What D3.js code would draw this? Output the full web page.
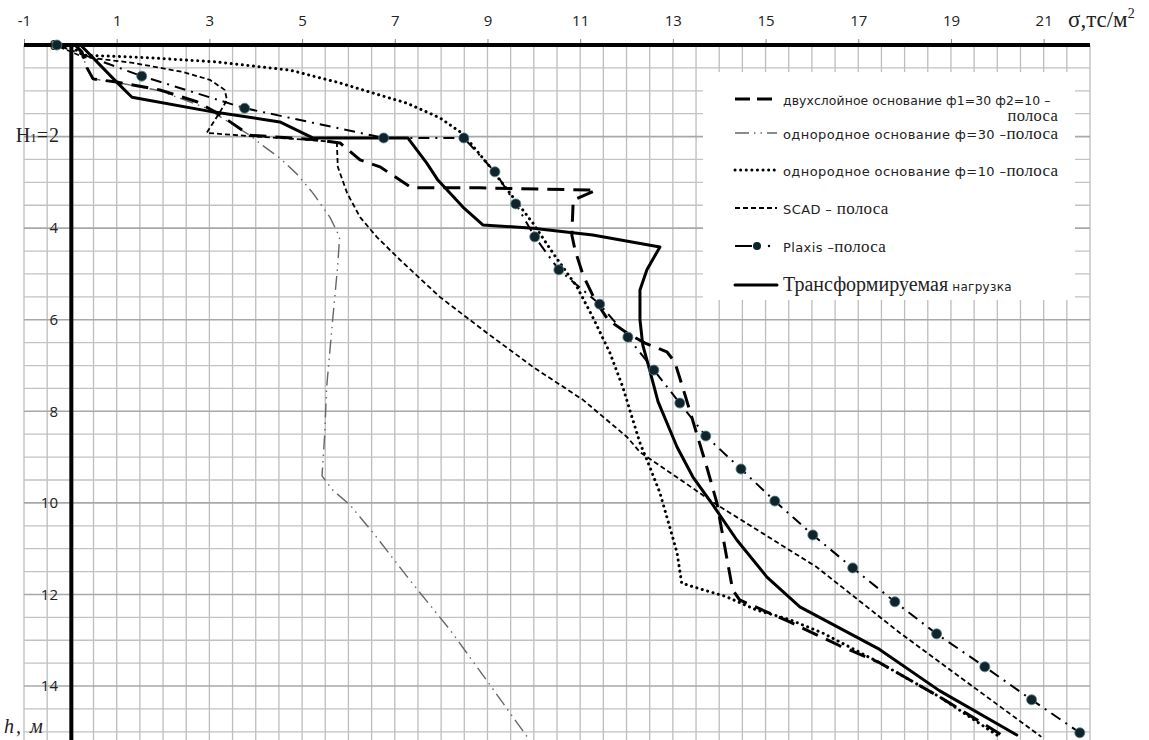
<!DOCTYPE html>
<html><head><meta charset="utf-8">
<script src="https://cdn.jsdelivr.net/npm/d3@7"></script>
<style>body{margin:0;background:#fff} svg{display:block}</style>
</head><body><svg id="c" width="1149" height="740"></svg>
<script>
// ---- data ----
const xTicks = [-1,1,3,5,7,9,11,13,15,17,19,21];
const yTicks = [0,2,4,6,8,10,12,14];
const yTickLabels = ["0","Н1=2","4","6","8","10","12","14"];

// [σ, h]
const twoLayer = [[0.1,0],[0.25,0.15],[0.36,0.5],[0.49,0.74],[1.0,0.81],[1.93,0.98],[2.73,1.24],[3.16,1.48],[3.87,1.97],[5.32,2.07],[5.82,2.14],[6.25,2.51],[6.68,2.66],[7.11,2.95],[7.37,3.12],[8.84,3.12],[11.34,3.17],[10.85,3.39],[10.82,4.15],[10.89,4.48],[11.06,5.02],[11.32,5.57],[11.6,6.0],[12.01,6.29],[12.4,6.51],[12.87,6.7],[13.04,6.92],[13.21,7.47],[13.47,8.34],[13.73,9.21],[13.95,10.0],[14.12,10.96],[14.29,11.9],[14.44,12.12],[15.52,12.6],[16.6,13.12],[17.46,13.49],[18.76,14.24],[20.16,15.11]];
const phi30 = [[0.1,0],[0.25,0.22],[0.38,0.55],[0.49,0.74],[1.07,0.83],[1.93,1.0],[2.94,1.38],[3.87,1.97],[4.13,2.18],[4.52,2.47],[4.89,2.82],[5.23,3.23],[5.6,3.76],[5.81,4.19],[5.77,4.8],[5.66,6.0],[5.53,7.47],[5.49,8.47],[5.43,9.41],[5.66,9.72],[6.03,10.04],[6.57,10.7],[7.32,11.68],[8.19,12.77],[9.05,13.97],[9.87,15.13]];
const phi10 = [[0.03,0.04],[0.27,0.22],[1.72,0.28],[3.16,0.37],[4.74,0.55],[5.82,0.83],[6.53,1.05],[7.26,1.27],[7.97,1.59],[8.47,1.94],[8.99,2.58],[9.48,3.23],[9.98,3.89],[10.41,4.54],[10.93,5.28],[11.27,5.94],[11.64,6.72],[11.92,7.47],[12.07,7.97],[12.29,8.69],[12.5,9.21],[12.72,9.78],[12.93,10.52],[13.09,11.09],[13.19,11.75],[13.43,11.83],[14.16,12.05],[14.81,12.34],[15.52,12.55],[16.23,12.84],[17.46,13.49],[18.76,14.24],[20.05,15.11]];
const scad = [[-0.23,0.04],[0.27,0.26],[1.35,0.39],[2.43,0.59],[3.01,0.76],[3.33,0.98],[3.38,1.2],[3.23,1.46],[2.94,1.92],[3.87,1.99],[5.1,2.07],[5.75,2.12],[5.77,2.66],[5.97,3.23],[6.25,3.76],[6.61,4.19],[7.11,4.69],[7.97,5.5],[8.99,6.29],[9.98,7.03],[11.06,7.75],[12.01,8.56],[12.29,8.89],[13.95,10.04],[16.1,11.4],[17.9,12.84],[20.95,15.11]];
const plaxis = [[-0.29,0],[1.54,0.68],[3.76,1.38],[6.76,2.03],[8.49,2.03],[9.16,2.77],[9.61,3.47],[10.02,4.19],[10.54,4.91],[11.42,5.66],[12.03,6.38],[12.59,7.10],[13.15,7.82],[13.71,8.54],[14.47,9.26],[15.2,9.96],[16.02,10.7],[16.88,11.42],[17.79,12.16],[18.69,12.86],[19.73,13.58],[20.74,14.3],[21.78,15.02]];
const transformed = [[0.22,0],[1.0,0.81],[1.33,1.14],[3.07,1.46],[4.52,1.68],[5.23,2.03],[7.28,2.03],[7.69,2.58],[7.93,2.95],[8.47,3.54],[8.9,3.93],[9.98,4.0],[11.27,4.15],[12.72,4.41],[12.44,4.91],[12.29,5.35],[12.29,6.0],[12.35,6.55],[12.5,7.1],[12.68,7.79],[13.09,8.78],[13.43,9.43],[13.86,10.04],[14.38,10.81],[15.03,11.62],[15.74,12.27],[17.46,13.2],[18.75,14.1],[20.42,15.07]];

// ---- styles ----
const styles = {
  twoLayer:    {stroke:"#000", width:3, dash:"17,9", cap:"butt"},
  phi30:       {stroke:"#666", width:1.4, dash:"14,5,1.5,5,1.5,5", cap:"butt"},
  phi10:       {stroke:"#000", width:3, dash:"0.1,5.5", cap:"round"},
  scad:        {stroke:"#000", width:1.8, dash:"5,3", cap:"butt"},
  plaxis:      {stroke:"#000", width:2, dash:"11,6,2,6", cap:"butt"},
  transformed: {stroke:"#000", width:3, dash:null, cap:"round"}
};

const svg = d3.select("#c");
const x = d3.scaleLinear().domain([-1,22]).range([24,1090]);
const y = d3.scaleLinear().domain([0,15.2]).range([45,741]);

// grid
const g = svg.append("g");
g.selectAll("line.v").data(d3.range(-1,22.001,0.5)).join("line")
  .attr("x1",d=>x(d)).attr("x2",d=>x(d)).attr("y1",y(0)).attr("y2",740)
  .attr("stroke","#bdbdbd").attr("stroke-width",1.3);
g.selectAll("line.h").data(d3.range(0.5,15.001,0.5)).join("line")
  .attr("x1",x(-1)).attr("x2",x(22)).attr("y1",d=>y(d)).attr("y2",d=>y(d))
  .attr("stroke",d=>(d%2===0)?"#a8a8a8":"#c2c2c2").attr("stroke-width",d=>(d%2===0)?1.6:1.3);

// top axis ticks & labels
const ax = d3.axisTop(x).tickValues(xTicks).tickSize(6).tickFormat(d=>String(d));
const axG = svg.append("g").attr("transform",`translate(0,${y(0)})`).call(ax);
axG.select(".domain").remove();
axG.selectAll(".tick line").attr("stroke","#888");
axG.selectAll(".tick text").attr("font-family","Open Sans, sans-serif").attr("font-size",15).attr("fill","#222").attr("y",-19).attr("dy",0);

// left labels
const ay = d3.axisLeft(y).tickValues(yTicks).tickSize(0).tickFormat((d,i)=>yTickLabels[i]);
const ayG = svg.append("g").attr("transform",`translate(58,0)`).call(ay);
ayG.select(".domain").remove();
ayG.selectAll(".tick text").attr("font-family","Open Sans, sans-serif").attr("font-size",15).attr("fill","#222").attr("x",0)
  .each(function(d,i){
    if(yTickLabels[i].startsWith("Н1")){
      const t=d3.select(this); t.text(null).attr("x",2);
      t.append("tspan").attr("font-family","Liberation Serif, serif").attr("font-size",20).text("Н");
      t.append("tspan").attr("font-family","Liberation Serif, serif").attr("font-size",13).text("1");
      t.append("tspan").attr("font-family","Liberation Serif, serif").attr("font-size",20).attr("letter-spacing",1).text("=2");
    }
  });

// legend box
svg.append("rect").attr("x",703).attr("y",72).attr("width",372).attr("height",228).attr("fill","#fff");

// axes thick lines
svg.append("line").attr("x1",x(-1)).attr("x2",x(22)).attr("y1",y(0)).attr("y2",y(0)).attr("stroke","#000").attr("stroke-width",4);
svg.append("line").attr("x1",x(0)+1).attr("x2",x(0)+1).attr("y1",y(0)-2).attr("y2",740).attr("stroke","#000").attr("stroke-width",4);

// curves
const line = d3.line().x(d=>x(d[0])).y(d=>y(d[1]));
const series = [["phi30",phi30],["scad",scad],["phi10",phi10],["twoLayer",twoLayer],["transformed",transformed],["plaxis",plaxis]];
series.forEach(([k,data])=>{
  const s=styles[k];
  svg.append("path").datum(data).attr("d",line).attr("fill","none")
    .attr("stroke",s.stroke).attr("stroke-width",s.width)
    .attr("stroke-dasharray",s.dash).attr("stroke-linecap",s.cap).attr("stroke-linejoin","round");
});
svg.append("g").selectAll("circle").data(plaxis).join("circle")
  .attr("cx",d=>x(d[0])).attr("cy",d=>y(d[1])).attr("r",5)
  .attr("fill","#10252b").attr("stroke","#4f7f88").attr("stroke-width",0.8);

// axis titles
svg.append("text").attr("x",1068).attr("y",27).attr("font-family","Liberation Serif, serif").attr("font-size",23).attr("fill","#222")
  .text("σ,тс/м").append("tspan").attr("font-size",14).attr("dy",-9).text("2");
svg.append("text").attr("x",4).attr("y",733).attr("font-family","Liberation Serif, serif").attr("font-style","italic").attr("font-size",20).attr("letter-spacing",2).attr("fill","#222").text("h, м");

// legend
const legendRows = [
  {k:"twoLayer", y:99, parts:[["двухслойное основание ф1=30 ф2=10 –","sansT"]]},
  {k:"phi30", y:133, parts:[["однородное основание ф=30 –","sans"],["полоса","serif"]]},
  {k:"phi10", y:170, parts:[["однородное основание ф=10 –","sans"],["полоса","serif"]]},
  {k:"scad", y:208, parts:[["SCAD – ","sans"],["полоса","serif"]]},
  {k:"plaxis", y:246, parts:[["Plaxis –","sans"],["полоса","serif"]]},
  {k:"transformed", y:285, parts:[["Трансформируемая","serifL"],[" нагрузка","sansS"]]}
];
const fonts = {
  sans:{f:"DejaVu Sans, sans-serif", s:13, ls:0.4},
  sansT:{f:"DejaVu Sans, sans-serif", s:12.4, ls:0.1},
  serif:{f:"Liberation Serif, serif", s:17, ls:0.3},
  serifL:{f:"Liberation Serif, serif", s:20, ls:0},
  sansS:{f:"DejaVu Sans, sans-serif", s:12, ls:0.3}
};
const lg = svg.append("g");
legendRows.forEach(r=>{
  const s=styles[r.k];
  lg.append("line").attr("x1",735).attr("x2",r.k==="plaxis"?752:777).attr("y1",r.y).attr("y2",r.y)
    .attr("stroke",s.stroke).attr("stroke-width",s.width)
    .attr("stroke-dasharray",r.k==="plaxis"?null:(r.k==="twoLayer"?"15,7":s.dash)).attr("stroke-linecap",s.cap);
  if(r.k==="plaxis"){
    lg.append("circle").attr("cx",757).attr("cy",r.y).attr("r",4).attr("fill","#10252b");
    lg.append("circle").attr("cx",769).attr("cy",r.y).attr("r",1.2).attr("fill","#000");
  }
  const t=lg.append("text").attr("x",783).attr("y",r.y).attr("dy","0.35em").attr("fill","#222");
  r.parts.forEach(p=>{t.append("tspan").attr("font-family",fonts[p[1]].f).attr("font-size",fonts[p[1]].s).attr("letter-spacing",fonts[p[1]].ls).text(p[0]);});
});
lg.append("text").attr("x",1058).attr("y",115).attr("dy","0.35em").attr("text-anchor","end")
  .attr("font-family","Liberation Serif, serif").attr("font-size",16.5).attr("letter-spacing",0.3).attr("fill","#222").text("полоса");
</script></body></html>
